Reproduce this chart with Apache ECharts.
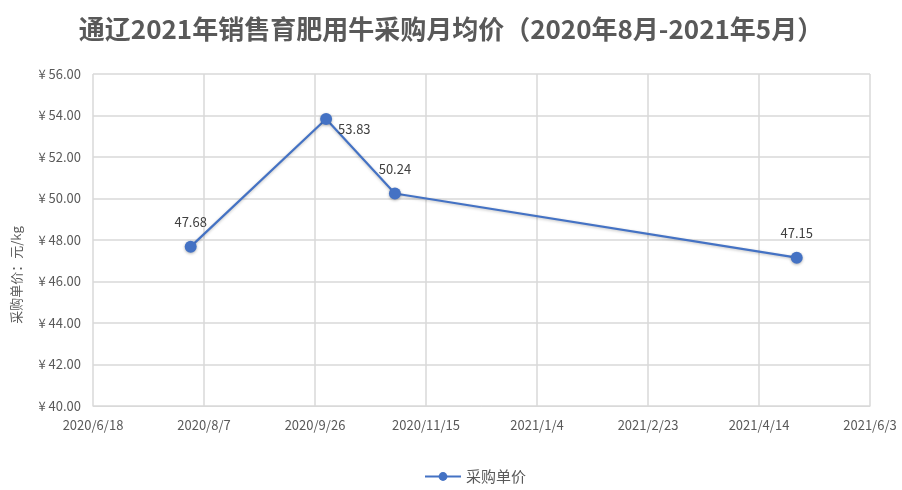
<!DOCTYPE html>
<html>
<head>
<meta charset="utf-8">
<script src="https://cdn.jsdelivr.net/npm/echarts@6/dist/echarts.min.js"></script>
<style>
    html, body { margin: 0; padding: 0; background: #fff; }
    #chart { width: 902px; height: 490px; }
</style>
</head>
<body>
<div id="chart"></div>
<script>
// purchase dates and monthly average price (元/kg)
const dates = ["2020-08-01", "2020-10-01", "2020-11-01", "2021-05-01"];
const prices = [47.68, 53.83, 50.24, 47.15];
const seriesName = "采购单价";
const axisStart = "2020-06-18";
const axisEnd = "2021-06-03";
const DAY = 86400000;

function ts(s) {
    const [y, m, d] = s.split("-").map(Number);
    return Date.UTC(y, m - 1, d);
}

function fmtDate(v) {
    const d = new Date(v);
    return d.getUTCFullYear() + "/" + (d.getUTCMonth() + 1) + "/" + d.getUTCDate();
}

const fontFamily = "'Noto Sans CJK SC', 'Noto Sans', sans-serif";
const grey = "#595959";
const gridColor = "#d9d9d9";
const blue = "#4472c4";

// Excel-style label placement per point (53.83 sits right-below its marker)
const labelPos = ["top", "right", "top", "top"];
const labelOffset = [[0, 0], [-6, 10], [0, 0], [0, 0]];

const chart = echarts.init(document.getElementById("chart"));

chart.setOption({
    textStyle: { fontFamily },
    title: {
        text: "通辽2021年销售育肥用牛采购月均价（2020年8月-2021年5月）",
        left: "center",
        top: 11,
        textStyle: {
            fontSize: 26,
            fontWeight: "bold",
            color: grey,
            fontFamily,
        },
    },
    grid: {
        left: 93,
        right: 32,
        top: 74,
        bottom: 84,
    },
    legend: {
        bottom: 1,
        left: 419,
        data: [seriesName],
        itemWidth: 36,
        itemHeight: 11,
        itemGap: 8,
        textStyle: { color: grey, fontSize: 15 },
    },
    xAxis: {
        type: "value",
        min: ts(axisStart),
        max: ts(axisEnd),
        interval: 50 * DAY,
        axisLine: { show: true, lineStyle: { color: gridColor } },
        axisTick: { show: false },
        splitLine: { show: true, lineStyle: { color: gridColor, width: 1.5 } },
        axisLabel: {
            color: grey,
            fontSize: 13,
            margin: 13,
            showMaxLabel: true,
            showMinLabel: true,
            formatter: (v) => fmtDate(v),
        },
    },
    yAxis: {
        type: "value",
        min: 40,
        max: 56,
        interval: 2,
        name: "采购单价：元/kg",
        nameLocation: "middle",
        nameGap: 70,
        nameTextStyle: { color: grey, fontSize: 13, padding: [0, 0, 0, -70] },
        axisLine: { show: false },
        axisTick: { show: false },
        splitLine: { lineStyle: { color: gridColor, width: 1.5 } },
        axisLabel: {
            color: grey,
            fontSize: 13,
            margin: 12,
            formatter: (v) => "¥ " + v.toFixed(2),
        },
    },
    series: [
        {
            name: seriesName,
            type: "line",
            data: dates.map((d, i) => ({
                value: [ts(d), prices[i]],
                label: { position: labelPos[i], offset: labelOffset[i] },
            })),
            symbol: "circle",
            symbolSize: 12,
            lineStyle: {
                color: blue,
                width: 2.2,
                shadowColor: "rgba(0,0,0,0.25)",
                shadowBlur: 3,
                shadowOffsetY: 1,
            },
            itemStyle: {
                color: blue,
                shadowColor: "rgba(0,0,0,0.3)",
                shadowBlur: 3,
                shadowOffsetY: 1,
            },
            label: {
                show: true,
                color: "#404040",
                fontSize: 13,
                distance: 12,
                formatter: (p) => p.value[1].toFixed(2),
            },
        },
    ],
});
</script>
</body>
</html>
